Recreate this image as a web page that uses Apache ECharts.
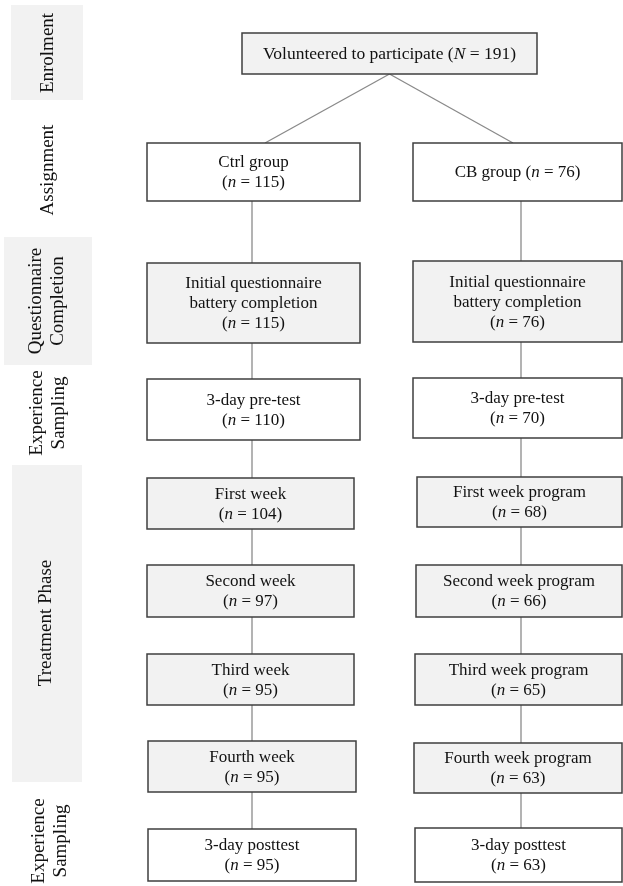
<!DOCTYPE html>
<html><head><meta charset="utf-8">
<script src="https://cdn.jsdelivr.net/npm/echarts@6/dist/echarts.min.js"></script>
<style>html,body{margin:0;padding:0;background:#fff}#c{width:623px;height:886px}</style>
</head><body><div id="c"></div>
<script>
// ---------- data ----------
const stages = ['Enrolment', 'Assignment', 'Questionnaire\nCompletion', 'Experience\nSampling', 'Treatment Phase', 'Experience\nSampling'];
const totalLabel = 'Volunteered to participate';
const totalN = 191;
const ctrlSteps = ['Ctrl group', 'Initial questionnaire\nbattery completion', '3-day pre-test', 'First week', 'Second week', 'Third week', 'Fourth week', '3-day posttest'];
const ctrlN = [115, 115, 110, 104, 97, 95, 95, 95];
const cbSteps = ['CB group', 'Initial questionnaire\nbattery completion', '3-day pre-test', 'First week program', 'Second week program', 'Third week program', 'Fourth week program', '3-day posttest'];
const cbN = [76, 76, 70, 68, 66, 65, 63, 63];

// ---------- layout (pixel space of the hidden axes) ----------
const W = 623, H = 886;
const stageY = [53, 170, 301, 413, 623, 841];
const stageX = [48, 48, 47, 48, 46, 50];
const stageBand = [[11, 83, 5, 100], null, [4, 92, 237, 365], null, [12, 82, 465, 782], null];
const ctrlRect = [[147,360,143,201],[147,360,263,343],[147,360,379,440],[147,354,478,529],[147,354,565,617],[147,354,654,705],[148,356,741,792],[148,356,829,881]];
const cbRect = [[413,622,143,201],[413,622,261,342],[413,622,378,438],[417,622,477,527],[416,622,565,617],[415,622,654,705],[414,622,743,793],[415,622,828,882]];
const filled = [false, true, false, true, true, true, true, false];
const topRect = [242, 537, 33, 74];
const ctrlLineX = 252, cbLineX = 521;
const GRAY = '#f2f2f2', BORDER = '#3f3f3f', LINK = '#8a8a8a';
const FONT = '"Liberation Serif", "Times New Roman", serif';

function nLabel(step, n, oneLine) {
  return step + (oneLine ? ' ' : '\n') + '({i|n} = ' + n + ')';
}

const chart = echarts.init(document.getElementById('c'), null, {renderer: 'canvas'});

function boxItem(api, r, fill, text, fontSize) {
  const p0 = api.coord([r[0], r[2]]);
  const p1 = api.coord([r[1], r[3]]);
  return {
    type: 'group',
    children: [
      {type: 'rect', shape: {x: p0[0], y: p0[1], width: p1[0] - p0[0], height: p1[1] - p0[1]},
       style: {fill: fill, stroke: BORDER, lineWidth: 1.5}},
      {type: 'text', x: (p0[0] + p1[0]) / 2, y: (p0[1] + p1[1]) / 2 + 1,
       style: {text: text, fill: '#111', align: 'center', verticalAlign: 'middle',
               font: fontSize + 'px ' + FONT, lineHeight: 20,
               rich: {i: {fontStyle: 'italic', fontSize: fontSize, fontFamily: FONT, lineHeight: 20}}}}
    ]
  };
}

// connectors built from the layout
const links = [];
links.push([(topRect[0] + topRect[1]) / 2, topRect[3], 265, ctrlRect[0][2]]);
links.push([(topRect[0] + topRect[1]) / 2, topRect[3], 513, cbRect[0][2]]);
for (let i = 0; i < ctrlSteps.length - 1; i++) {
  links.push([ctrlLineX, ctrlRect[i][3], ctrlLineX, ctrlRect[i + 1][2]]);
  links.push([cbLineX, cbRect[i][3], cbLineX, cbRect[i + 1][2]]);
}

chart.setOption({
  animation: false,
  grid: {left: 0, right: 0, top: 0, bottom: 0},
  xAxis: {type: 'value', min: 0, max: W, show: false},
  yAxis: {type: 'value', min: 0, max: H, inverse: true, show: false},
  series: [
    { // stage labels
      type: 'custom', coordinateSystem: 'cartesian2d', silent: true,
      data: stages.map((s, i) => [i]),
      renderItem: (params, api) => {
        const i = params.dataIndex;
        const children = [];
        const b = stageBand[i];
        if (b) {
          const p0 = api.coord([b[0], b[2]]), p1 = api.coord([b[1], b[3]]);
          children.push({type: 'rect', shape: {x: p0[0], y: p0[1], width: p1[0] - p0[0], height: p1[1] - p0[1]}, style: {fill: GRAY}});
        }
        const c = api.coord([stageX[i], stageY[i]]);
        children.push({type: 'text', x: c[0], y: c[1], rotation: Math.PI / 2,
          style: {text: stages[i], fill: '#111', align: 'center', verticalAlign: 'middle',
                  font: '19px ' + FONT, lineHeight: 22}});
        return {type: 'group', children: children};
      }
    },
    { // connectors
      type: 'custom', coordinateSystem: 'cartesian2d', silent: true,
      data: links.map((l, i) => [i]),
      renderItem: (params, api) => {
        const l = links[params.dataIndex];
        const a = api.coord([l[0], l[1]]), b = api.coord([l[2], l[3]]);
        return {type: 'line', shape: {x1: a[0], y1: a[1], x2: b[0], y2: b[1]}, style: {stroke: LINK, lineWidth: 1.3}};
      }
    },
    { // top box
      type: 'custom', coordinateSystem: 'cartesian2d', silent: true,
      data: [[totalN]],
      renderItem: (params, api) => boxItem(api, topRect, GRAY, totalLabel + ' ({i|N} = ' + totalN + ')', 17.5)
    },
    { // control arm
      type: 'custom', coordinateSystem: 'cartesian2d', silent: true,
      data: ctrlN.map((n, i) => [i, n]),
      renderItem: (params, api) => {
        const i = params.dataIndex;
        return boxItem(api, ctrlRect[i], filled[i] ? GRAY : '#fff', nLabel(ctrlSteps[i], ctrlN[i], false), 17);
      }
    },
    { // CB arm
      type: 'custom', coordinateSystem: 'cartesian2d', silent: true,
      data: cbN.map((n, i) => [i, n]),
      renderItem: (params, api) => {
        const i = params.dataIndex;
        return boxItem(api, cbRect[i], filled[i] ? GRAY : '#fff', nLabel(cbSteps[i], cbN[i], i === 0), 17);
      }
    }
  ]
});
</script>
</body></html>
